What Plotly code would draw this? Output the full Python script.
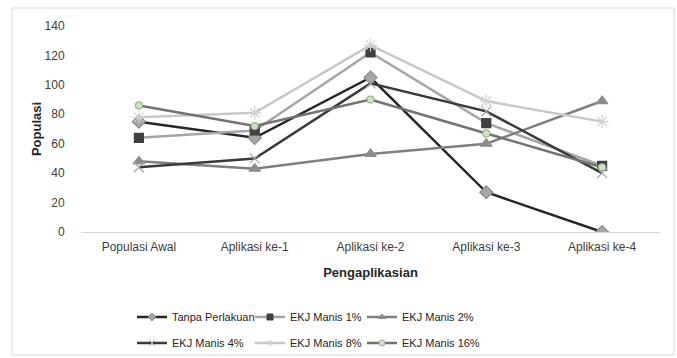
import plotly.graph_objects as go

categories = ["Populasi Awal", "Aplikasi ke-1", "Aplikasi ke-2", "Aplikasi ke-3", "Aplikasi ke-4"]

tanpa_perlakuan = [75, 64, 105, 27, 0]
ekj_1 = [64, 69, 122, 74, 45]
ekj_2 = [48, 43, 53, 60, 89]
ekj_4 = [44, 50, 101, 82, 40]
ekj_8 = [78, 81, 127, 89, 75]
ekj_16 = [86, 72, 90, 67, 44]

y_ticks = [0, 20, 40, 60, 80, 100, 120, 140]

FONT = "Liberation Sans, Arial, sans-serif"

series = [
    ("Tanpa Perlakuan", tanpa_perlakuan, "#262626", "diamond", 10, "#a6a6a6", "#8c8c8c"),
    ("EKJ Manis 1%", ekj_1, "#a6a6a6", "square", 9, "#404040", "#404040"),
    ("EKJ Manis 2%", ekj_2, "#7f7f7f", "triangle-up", 10, "#8c8c8c", "#8c8c8c"),
    ("EKJ Manis 4%", ekj_4, "#3a3a3a", "x-thin-open", 10, "#a6a6a6", "#a6a6a6"),
    ("EKJ Manis 8%", ekj_8, "#c8c8c8", "asterisk-open", 11, "#d0d0d0", "#d0d0d0"),
    ("EKJ Manis 16%", ekj_16, "#767171", "circle", 7, "#d9d9d9", "#8fbf6f"),
]

W, H = 677, 358
L, R, T, B = 81, 17, 26, 126
pw, ph = W - L - R, H - T - B

def px_x(x):
    return (x - L) / pw

def px_y(y):
    return (H - B - y) / ph

# legend slots (text start x, row center y) in pixels
legend_text_x = [173, 291, 403, 173, 291, 403]
legend_row_y = [317, 317, 317, 343, 343, 343]

fig = go.Figure()
legend_ids = ["legend", "legend2", "legend3", "legend4", "legend5", "legend6"]
for i, (name, vals, lc, sym, sz, mc, mlc) in enumerate(series):
    fig.add_trace(go.Scatter(
        x=categories, y=vals, name=name, mode="lines+markers",
        line=dict(color=lc, width=2.5),
        marker=dict(symbol=sym, size=sz, color=mc, line=dict(color=mlc, width=1.2)),
        showlegend=False,
    ))
for i, (name, vals, lc, sym, sz, mc, mlc) in enumerate(series):
    fig.add_trace(go.Scatter(
        x=[categories[0]], y=[None], name=name, mode="lines+markers",
        line=dict(color=lc, width=2.5),
        marker=dict(symbol=sym, size=6, color=mc, line=dict(color=mlc, width=1)),
        showlegend=True, legend=legend_ids[i], hoverinfo="skip",
    ))

fig.add_shape(type="rect", xref="paper", yref="paper",
              x0=px_x(12), x1=px_x(674), y0=px_y(355), y1=px_y(8),
              line=dict(color="#d9d9d9", width=1), fillcolor="rgba(0,0,0,0)", layer="below")

legends = {}
for i, lid in enumerate(legend_ids):
    legends[lid] = dict(
        x=px_x(legend_text_x[i] - 41), y=px_y(legend_row_y[i]),
        xanchor="left", yanchor="middle",
        font=dict(family=FONT, size=11, color="#262626"),
        itemwidth=30, bgcolor="rgba(0,0,0,0)", borderwidth=0,
    )

fig.update_layout(
    width=W, height=H,
    margin=dict(l=L, r=R, t=T, b=B, pad=0, autoexpand=False),
    paper_bgcolor="white", plot_bgcolor="white",
    font=dict(family=FONT, size=12, color="#262626"),
    showlegend=True,
    xaxis=dict(
        type="category", range=[-0.5, 4.5], showgrid=False, zeroline=False,
        showline=True, linecolor="#d9d9d9", linewidth=1,
        ticks="outside", ticklen=4, tickcolor="rgba(0,0,0,0)",
        tickfont=dict(family=FONT, size=12, color="#404040"),
        title=dict(text="<b>Pengaplikasian</b>", font=dict(family=FONT, size=13, color="#262626"), standoff=14),
    ),
    yaxis=dict(
        range=[0, 140], tickvals=y_ticks, showgrid=False, zeroline=False,
        showline=False, ticks="outside", ticklen=13, tickcolor="rgba(0,0,0,0)",
        tickfont=dict(family=FONT, size=12, color="#404040"),
        title=dict(text="<b>Populasi</b>", font=dict(family=FONT, size=13, color="#262626"), standoff=0),
    ),
    **legends,
)

fig.write_html("out.html")
